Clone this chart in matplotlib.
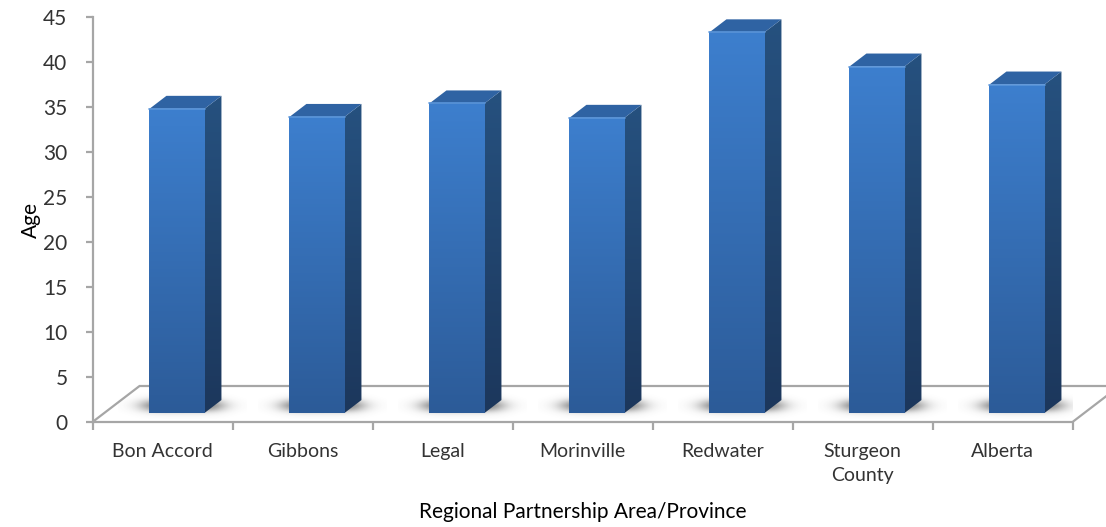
import numpy as np
import matplotlib.pyplot as plt
from matplotlib.colors import LinearSegmentedColormap
from matplotlib.patches import Polygon

# median age by area
areas = ["Bon Accord", "Gibbons", "Legal", "Morinville", "Redwater",
         "Sturgeon\nCounty", "Alberta"]
median_age = [33.8, 32.9, 34.4, 32.8, 42.3, 38.5, 36.5]
y_ticks = list(range(0, 46, 5))

# fake 3-D: floor depth vector and bar box geometry, in data units
DEPTH_X, DEPTH_Y = 0.336, 4.0
BAR_LEFT, BAR_W = 0.407, 0.393
BAR_BASE = 1.0
SIDE_X, SIDE_Y = 0.121, 1.44

GRID_GREY = "#a6a6a6"
front_cmap = LinearSegmentedColormap.from_list("front", ["#2c5b98", "#3d7fce"])
side_cmap = LinearSegmentedColormap.from_list("side", ["#1c375c", "#26517f"])

plt.rcParams['font.family'] = ['Lato', 'DejaVu Sans']

fig = plt.figure(figsize=(11.06, 5.27), dpi=100)
ax = fig.add_axes([92.5 / 1106, 105 / 527, 980 / 1106, 405 / 527])
n = len(areas)

# floor
floor = Polygon([(0, 0), (n, 0), (n + DEPTH_X, DEPTH_Y), (DEPTH_X, DEPTH_Y)],
                closed=True, facecolor="white", edgecolor=GRID_GREY,
                lw=1.6, clip_on=False, zorder=1)
ax.add_patch(floor)

# soft shadows under the bars
sx = np.linspace(-1, 1, 200)
sy = np.linspace(-1, 1, 60)
SX, SY = np.meshgrid(sx, sy)
edge = lambda t, r, s: 0.5 * (1 - np.tanh((np.abs(t) - r) / s))
shade = np.zeros(SX.shape + (4,))
shade[..., :3] = 0.25
shade[..., 3] = 0.8 * edge(SX, 0.6, 0.2) * edge(SY, 0.35, 0.3)
for i in range(n):
    ax.imshow(shade, extent=(i + 0.18, i + 1.1, 0.3, 3.3), origin="lower",
              aspect="auto", zorder=2, interpolation="bilinear")

# bars: front face from ax.bar, then shaded faces on top
grad = np.linspace(0, 1, 256).reshape(-1, 1)
bars = ax.bar([i + BAR_LEFT for i in range(n)], median_age, width=BAR_W,
              bottom=BAR_BASE, align="edge", color="#3470b5", zorder=3)
for rect, v in zip(bars, median_age):
    x0 = rect.get_x()
    x1 = x0 + rect.get_width()
    y0 = BAR_BASE
    y1 = BAR_BASE + v

    im = ax.imshow(grad, cmap=front_cmap, extent=(x0, x1, y0, y1),
                   origin="lower", aspect="auto", zorder=3.1)
    im.set_clip_path(rect)

    side = Polygon([(x1, y0), (x1 + SIDE_X, y0 + SIDE_Y),
                    (x1 + SIDE_X, y1 + SIDE_Y), (x1, y1)],
                   closed=True, facecolor="none", edgecolor="none", zorder=3)
    ax.add_patch(side)
    sim = ax.imshow(grad, cmap=side_cmap,
                    extent=(x1, x1 + SIDE_X, y0, y1 + SIDE_Y),
                    origin="lower", aspect="auto", zorder=3.1)
    sim.set_clip_path(side)

    top = Polygon([(x0, y1), (x1, y1), (x1 + SIDE_X, y1 + SIDE_Y),
                   (x0 + SIDE_X, y1 + SIDE_Y)],
                  closed=True, facecolor="#2f63a3", edgecolor="none", zorder=3.2)
    ax.add_patch(top)
    # light bevel along the front top edge
    ax.plot([x0, x1], [y1, y1], color="#5a95da", lw=1.2, zorder=3.3,
            solid_capstyle="round")

ax.set_xlim(0, n)
ax.set_ylim(0, 45)

# axes styling
for s in ("top", "right", "bottom"):
    ax.spines[s].set_visible(False)
ax.spines["left"].set_color(GRID_GREY)
ax.spines["left"].set_linewidth(1.6)

ax.set_xticks([i + 0.5 for i in range(n)], areas)
ax.set_xticks(range(n + 1), minor=True)
ax.tick_params(axis="x", which="major", length=0, pad=15, labelsize=14,
               labelcolor="#333333")
ax.tick_params(axis="x", which="minor", length=6, width=1.6, color=GRID_GREY,
               direction="out")
for lbl in ax.get_xticklabels():
    lbl.set_linespacing(1.5)
ax.set_yticks(y_ticks)
ax.tick_params(axis="y", length=5, width=1.6, color=GRID_GREY, pad=13,
               labelsize=15, labelcolor="#333333")

ax.set_ylabel("Age", fontsize=15, labelpad=2)
ax.set_xlabel("Regional Partnership Area/Province", fontsize=15, labelpad=13)

fig.savefig("out.png", dpi=100)
